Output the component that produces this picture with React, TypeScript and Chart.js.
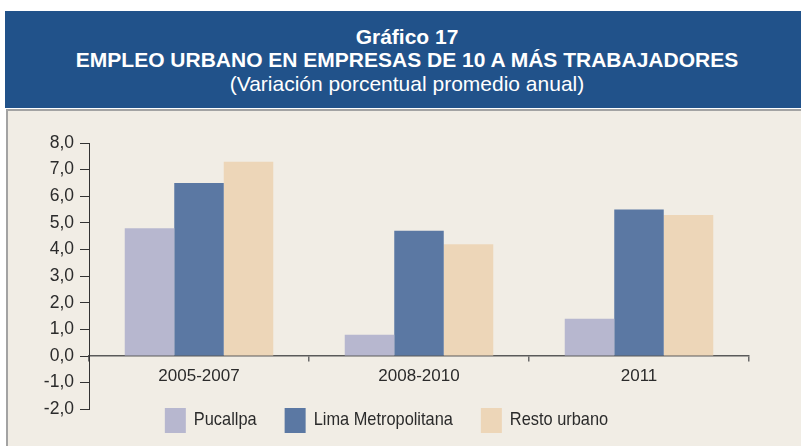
import React, { useEffect, useRef } from "react";
import { Chart, registerables } from "chart.js";

Chart.register(...registerables);

// ---- data ----
const categories = ["2005-2007", "2008-2010", "2011"];
const seriesNames = ["Pucallpa", "Lima Metropolitana", "Resto urbano"];
const pucallpa = [4.8, 0.8, 1.4];
const limaMetropolitana = [6.5, 4.7, 5.5];
const restoUrbano = [7.3, 4.2, 5.3];
const yMin = -2;
const yMax = 8;
const yStep = 1;

const titleLine1 = "Gráfico 17";
const titleLine2 = "EMPLEO URBANO EN EMPRESAS DE 10 A MÁS TRABAJADORES";
const subtitle = "(Variación porcentual promedio anual)";

const FONT = '"Liberation Sans", Arial, Helvetica, sans-serif';
const colors = ["#B7B7CF", "#5B78A3", "#EDD6B8"];

const boxLegend = {
  id: "boxLegend",
  afterDraw(chart: any) {
    const ctx = chart.ctx;
    const ds = chart.data.datasets;
    const sx = 0.885;
    const bw = 21, bh = 25, gapText = 8, gapItem = 28;
    ctx.save();
    ctx.font = `18.5px ${FONT}`;
    const widths = ds.map((d: any) => bw + gapText + ctx.measureText(d.label).width * sx);
    const total = widths.reduce((a: number, b: number) => a + b, 0) + gapItem * (ds.length - 1);
    let x = 380.5 - total / 2;
    const top = chart.chartArea.bottom - 1.25;
    ds.forEach((d: any, i: number) => {
      ctx.fillStyle = d.backgroundColor;
      ctx.fillRect(x, top, bw, bh);
      ctx.fillStyle = "#2b2b2b";
      ctx.textBaseline = "middle";
      ctx.textAlign = "left";
      ctx.save();
      ctx.translate(x + bw + gapText, top + bh / 2 - 0.5);
      ctx.scale(sx, 1);
      ctx.fillText(d.label, 0, 0);
      ctx.restore();
      x += widths[i] + gapItem;
    });
    ctx.restore();
  },
};

export default function App() {
  const ref = useRef<HTMLCanvasElement | null>(null);

  useEffect(() => {
    if (!ref.current) return;
    const series = [pucallpa, limaMetropolitana, restoUrbano];
    const chart = new Chart(ref.current, {
      type: "bar",
      data: {
        labels: categories,
        datasets: series.map((vals, i) => ({
          label: seriesNames[i],
          data: vals,
          backgroundColor: colors[i],
          borderWidth: 0,
          categoryPercentage: 0.675,
          barPercentage: 1,
        })),
      },
      options: {
        responsive: false,
        animation: false,
        devicePixelRatio: 1,
        layout: { padding: { left: 0, right: 52, top: 33, bottom: 36.75 } },
        plugins: { legend: { display: false }, tooltip: { enabled: false } },
        scales: {
          x: {
            type: "category",
            position: { y: 0 } as any,
            offset: true,
            z: 1,
            grid: {
              offset: true,
              drawOnChartArea: false,
              drawTicks: true,
              tickLength: 5,
              color: "#6a6a6a",
              lineWidth: 1.5,
            },
            border: { display: true, color: "#5a5a5a", width: 1.5 },
            ticks: { color: "#2b2b2b", font: { family: FONT, size: 17 }, padding: 5, maxRotation: 0 },
          },
          y: {
            min: yMin,
            max: yMax,
            ticks: {
              stepSize: yStep,
              color: "#2b2b2b",
              font: { family: FONT, size: 17.5 },
              padding: 6,
              callback: (v: any) => Number(v).toFixed(1).replace(".", ","),
            },
            grid: { drawOnChartArea: false, drawTicks: true, tickLength: 9, color: "#333333", lineWidth: 1 },
            border: { display: true, color: "#333333", width: 1 },
            afterFit: (s: any) => {
              s.width = 83;
            },
          },
        },
      },
      plugins: [boxLegend],
    });
    return () => chart.destroy();
  }, []);

  const line = (top: number, text: string, bold: boolean) => (
    <div
      style={{
        position: "absolute",
        left: 5,
        top,
        width: 804,
        textAlign: "center",
        fontFamily: FONT,
        fontSize: 21,
        fontWeight: bold ? 700 : 400,
        lineHeight: "24px",
        color: "#ffffff",
        whiteSpace: "nowrap",
      }}
    >
      {text}
    </div>
  );

  return (
    <div
      style={{
        position: "fixed",
        left: 0,
        top: 0,
        width: 801,
        height: 446,
        overflow: "hidden",
        background: "#ffffff",
      }}
    >
      <div style={{ position: "absolute", left: 5, top: 11, width: 804, height: 97, background: "#21528A" }} />
      {line(25, titleLine1, true)}
      {line(48, titleLine2, true)}
      {line(71.5, subtitle, false)}
      <div
        style={{
          position: "absolute",
          left: 6,
          top: 109,
          width: 800,
          height: 340,
          background: "#F1EDE5",
          borderTop: "2px solid #A3A3A3",
          borderLeft: "2px solid #A3A3A3",
        }}
      />
      <canvas
        ref={ref}
        width={795}
        height={336}
        style={{ position: "absolute", left: 6, top: 110, width: 795, height: 336 }}
      />
    </div>
  );
}
